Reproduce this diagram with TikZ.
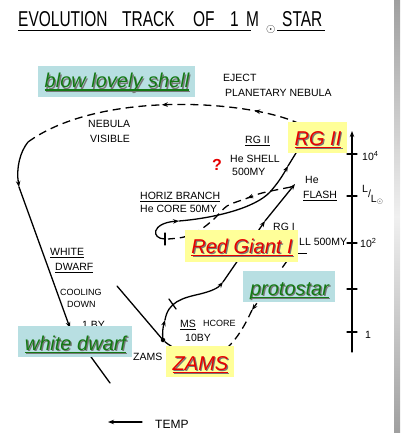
\documentclass[tikz,border=0pt]{standalone}
\usepackage{fontspec}
\setmainfont{Liberation Sans}
\newfontfamily\titlefont[FakeStretch=0.72]{Liberation Sans}
\usetikzlibrary{arrows.meta,decorations.markings}
\definecolor{boxblue}{RGB}{184,223,226}
\definecolor{boxyellow}{RGB}{255,255,153}
\definecolor{txtgreen}{RGB}{20,120,20}
\definecolor{txtred}{RGB}{230,0,0}
\definecolor{shadowgray}{RGB}{120,120,120}
\newcommand\myul[1]{\setbox0\hbox{#1}\rlap{\copy0}\raisebox{-3pt}{\rule{\wd0}{1.5pt}}}
\newcommand\lul[1]{\setbox0\hbox{#1}\rlap{\copy0}\raisebox{-2.5pt}{\rule{\wd0}{0.9pt}}}
\newcommand\shtext[2]{\rlap{\kern1.2pt\raisebox{-1.2pt}{\color{shadowgray}\myul{#2}}}{\color{#1}\myul{#2}}}
\tikzset{
  trk/.style={line width=1.3pt, line cap=round},
  dsh/.style={line width=1.3pt, dash pattern=on 8pt off 5pt},
  arr/.style={-{Stealth[length=6pt,width=4.5pt]}},
  midarrow/.style={postaction={decorate,decoration={markings,mark=at position #1 with {\arrow{Stealth[length=6pt,width=4.5pt]}}}}},
  lbl/.style={inner sep=0, anchor=base west, font=\fontsize{10.5}{12}\selectfont},
  lbls/.style={lbl, font=\fontsize{9}{11}\selectfont},
  ttl/.style={inner sep=0, anchor=base west, font=\titlefont\fontsize{21.5}{24}\selectfont},
  bluebox/.style={fill=boxblue, draw=none, inner sep=0, minimum height=31},
  yellowbox/.style={fill=boxyellow, draw=none, inner sep=0, minimum height=31},
  boxtxt/.style={inner sep=0, anchor=base, font=\fontsize{20}{24}\selectfont\itshape},
  dotnode/.style={circle, fill=black, inner sep=0, minimum size=4.5},
}
\begin{document}
\begin{tikzpicture}[x=1pt,y=-1pt]
\useasboundingbox (0,0) rectangle (400,433);
\fill[white] (0,0) rectangle (400,433);
\shade[top color=gray!75, bottom color=gray!75, middle color=gray!12] (394,0) rectangle (400,433);

% title
\node[ttl] (t1) at (18,27) {EVOLUTION};
\node[ttl] (t2) at (122,27) {TRACK};
\node[ttl] (t3) at (193,27) {OF};
\node[ttl] (t4) at (230,27) {1};
\node[ttl] (t5) at (246,27) {M};
\node[inner sep=0, anchor=base west, font=\fontsize{13}{14}\selectfont] (t6) at (266,33) {$\odot$};
\node[ttl] (t7) at (282,27) {STAR};
\coordinate (u1a) at (18,31); \coordinate (u1b) at (251,31);
\coordinate (u2a) at (277,31); \coordinate (u2b) at (325,31);
\draw[line width=1pt] (u1a) -- (u1b);
\draw[line width=1pt] (u2a) -- (u2b);

% key points
\coordinate (ej0) at (300,124);
\coordinate (ej1) at (28,142);
\coordinate (wd1) at (19,187);
\coordinate (wd2) at (70,328);
\coordinate (wd3) at (110,383);
\coordinate (ms0) at (117,286);
\node[dotnode] (zp) at (163,340) {};
\coordinate (m1) at (165,320);
\coordinate (m2) at (223,282);
\coordinate (m3) at (265,221);
\coordinate (hf) at (295,184);
\coordinate (hb0) at (165,239);
\coordinate (hb1) at (179,221);
\coordinate (hb2) at (288,166);
\coordinate (rg2) at (296,153);
\coordinate (p0) at (287,261);
\coordinate (p1) at (252,310);

% ejection (dashed) track
\draw[dsh, midarrow=0.17, midarrow=0.5] (ej0) .. controls (250,100) and (100,90) .. (ej1);
% white dwarf track
\draw[trk, arr] (ej1) .. controls (20,152) and (16,168) .. (wd1);
\draw[trk, arr] (wd1) -- (wd2);
\draw[trk] (wd2) -- (wd3);

% ZAMS line
\draw[trk] (ms0) -- (zp.center);

% main sequence / RG I track
\draw[trk, arr] (zp.center) .. controls (162,333) and (163,327) .. (m1);
\draw[trk, arr] (m1) .. controls (168,302) and (182,298) .. (200,294) .. controls (212,291) and (218,288) .. (m2);
\draw[trk, arr] (m2) -- (m3);
\draw[trk, arr] (m3) -- (hf);
\coordinate (tk1) at (169,299); \coordinate (tk2) at (176,309);
\draw[trk] (tk1) -- (tk2);

% horizontal branch loop and RG II
\draw[trk, arr] (hb0) .. controls (151,239) and (151,223) .. (hb1);
\draw[trk, arr] (hb1) .. controls (215,218) and (255,208) .. (270,192) .. controls (278,183) and (283,175) .. (hb2);
\draw[trk] (hb2) -- (rg2);
\coordinate (pl1) at (165,233); \coordinate (pl2) at (165,245);
\draw[trk] (pl1) -- (pl2);

% He flash dashed
\draw[dsh, midarrow=0.33] plot[smooth] coordinates {(291,187) (262,193) (245,199) (227,206) (214,219) (200,230) (184,237) (168,239)};

% protostar dashed
\draw[dsh, arr] (p0) -- (p1);
\draw[dsh] (p1) .. controls (245,325) and (238,338) .. (226,349) .. controls (205,360) and (175,352) .. (zp.center);

% axis
\coordinate (ax0) at (352,352); \coordinate (ax1) at (352,131);
\draw[trk, arr] (ax0) -- (ax1);
\foreach \yy/\nm in {154/a,196/b,243/c,289/d,332/e}{
  \coordinate (tka\nm) at (347,\yy); \coordinate (tkb\nm) at (357,\yy);
  \draw[trk] (tka\nm) -- (tkb\nm);
}
\node[lbl] (ax4) at (362,160) {10\textsuperscript{4}};
\node[lbl] (axl) at (362,197) {\raisebox{5pt}{L}/\raisebox{-5pt}{L$_{\odot}$}};
\node[lbl] (ax2) at (360,247) {10\textsuperscript{2}};
\node[lbl] (ax1l) at (365,338) {1};

% temp arrow
\coordinate (te0) at (142,422); \coordinate (te1) at (108,422);
\draw[trk, arr] (te0) -- (te1);
\node[lbl, font=\fontsize{12}{14}\selectfont] (temp) at (155,428) {TEMP};

% labels
\node[lbl] (l1) at (223,82) {EJECT};
\node[lbl] (l2) at (225,96) {PLANETARY NEBULA};
\node[lbl] (l3) at (88,128) {NEBULA};
\node[lbl] (l4) at (90,142) {VISIBLE};
\node[lbl] (l5) at (245,143) {\lul{RG II}};
\node[lbl] (l6) at (230,162) {He SHELL};
\node[lbl] (l7) at (232,175) {500MY};
\node[lbl] (l8) at (305,183) {He};
\node[lbl] (l9) at (303,198) {\lul{FLASH}};
\node[lbl] (l10) at (140,199) {\lul{HORIZ BRANCH}};
\node[lbl] (l11) at (140,212) {He CORE 50MY};
\node[lbl] (l12) at (273,230) {RG I};
\node[lbl] (l13) at (299,245) {LL 500MY};
\coordinate (fr1) at (290,253); \coordinate (fr2) at (307,253);
\draw[line width=1pt] (fr1) -- (fr2);
\node[lbl] (l14) at (50,255) {\lul{WHITE}};
\node[lbl] (l15) at (55,270) {\lul{DWARF}};
\node[lbls] (l16) at (60,295) {COOLING};
\node[lbls] (l17) at (67,307) {DOWN};
\node[lbl] (l18) at (82,328) {1 BY};
\node[lbl] (l19) at (133,360) {ZAMS};
\node[lbl] (l20) at (180,327) {\lul{MS}};
\node[lbls] (l21) at (203,326) {HCORE};
\node[lbl] (l22) at (185,341) {10BY};
\node[inner sep=0, anchor=base west, font=\fontsize{16}{18}\selectfont\bfseries, text=txtred] (q) at (212,170) {?};

% boxes
\node[bluebox, minimum width=157] (b1) at (116.5,81.5) {};
\node[boxtxt] (b1t) at (117,88) {\shtext{txtgreen}{blow lovely shell}};
\node[yellowbox, minimum width=59] (b2) at (317.5,137.5) {};
\node[boxtxt] (b2t) at (318,145) {\shtext{txtred}{RG II}};
\node[yellowbox, minimum width=113, minimum height=32] (b3) at (241.5,246) {};
\node[boxtxt] (b3t) at (242,253) {\shtext{txtred}{Red Giant I}};
\node[bluebox, minimum width=92] (b4) at (289,286.5) {};
\node[boxtxt] (b4t) at (289.5,295) {\shtext{txtgreen}{protostar}};
\node[bluebox, minimum width=114] (b5) at (75,341.5) {};
\node[boxtxt] (b5t) at (75.5,350) {\shtext{txtgreen}{white dwarf}};
\node[yellowbox, minimum width=68] (b6) at (200,361.5) {};
\node[boxtxt] (b6t) at (200.5,370) {\shtext{txtred}{ZAMS}};
\end{tikzpicture}
\end{document}
